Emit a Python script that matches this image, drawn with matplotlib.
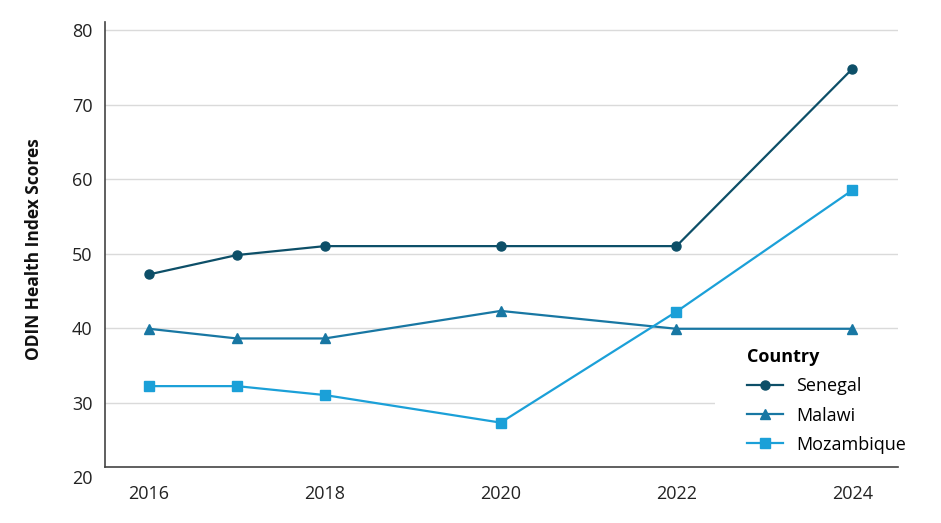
import matplotlib
matplotlib.use("Agg")
import matplotlib.pyplot as plt
from matplotlib.patches import Rectangle

plt.rcParams['font.family'] = ['Open Sans', 'DejaVu Sans']

years = [2016, 2017, 2018, 2020, 2022, 2024]
senegal = [47.2, 49.8, 51.0, 51.0, 51.0, 74.8]
malawi = [39.9, 38.6, 38.6, 42.3, 39.9, 39.9]
mozambique = [32.2, 32.2, 31.0, 27.3, 42.2, 58.5]

series = [
	("Senegal", senegal, "#0d4f68", "o", 6.5),
	("Malawi", malawi, "#1877a3", "^", 7),
	("Mozambique", mozambique, "#1ba0d8", "s", 6.5),
]

x_ticks = [2016, 2018, 2020, 2022, 2024]
y_ticks = [20, 30, 40, 50, 60, 70, 80]

fig = plt.figure(figsize=(9.41, 5.23), dpi=100)
ax = fig.add_axes([0.1116, 0.088, 0.8427, 0.87])

for name, vals, col, mk, ms in series:
	ax.plot(years, vals, color=col, marker=mk, markersize=ms, linewidth=1.6, label=name)

ax.set_xlim(2015.5, 2024.52)
ax.set_ylim(20, 81.1)
ax.set_xticks(x_ticks)
ax.set_yticks(y_ticks)

# axis line sits a bit above 20 in the original
ax.spines['bottom'].set_position(('data', 21.3))
ax.spines['left'].set_bounds(21.3, 81.1)
for s in ['top', 'right']:
	ax.spines[s].set_visible(False)
for s in ['left', 'bottom']:
	ax.spines[s].set_color("#444444")
	ax.spines[s].set_linewidth(1.2)

ax.grid(axis='y', color="#dadada", linewidth=1)
ax.set_axisbelow(True)
ax.yaxis.get_major_ticks()[0].gridline.set_visible(False)

ax.tick_params(axis='both', length=0, labelsize=13, colors="#222222")
ax.tick_params(axis='y', pad=9)
ax.tick_params(axis='x', pad=13)

ax.set_ylabel("ODIN Health Index Scores", fontsize=12.5, fontweight='bold', labelpad=21, color="#111111")

# white background block behind the legend (hides the grid there)
ax.add_patch(Rectangle((0.769, 0.024), 0.231, 0.288, transform=ax.transAxes,
	facecolor='white', edgecolor='none', zorder=1))

leg = ax.legend(loc='upper left', bbox_to_anchor=(0.7985, 0.303), title="Country",
	frameon=False, fontsize=13, title_fontproperties={'weight': 'bold', 'size': 13},
	alignment='left', handlelength=2.0, handletextpad=0.72, labelspacing=0.62, borderpad=0)

fig.savefig("out.png", dpi=100)
